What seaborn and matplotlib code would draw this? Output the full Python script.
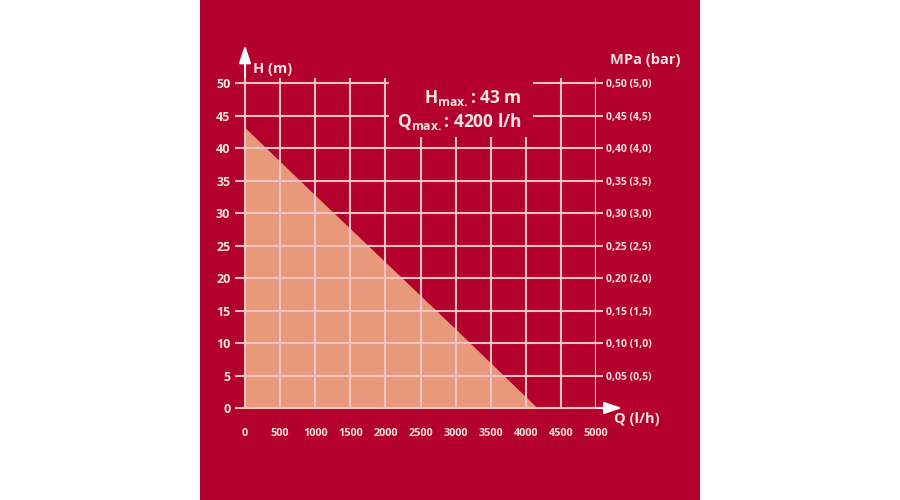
import matplotlib
matplotlib.use("Agg")
import matplotlib.pyplot as plt
import matplotlib.patches as mpatches
import seaborn as sns
import pandas as pd

# pump curve
flow_lh = [0, 1000, 2000, 3000, 4150]
head_m = [43, 32.6, 22.3, 12.0, 0]

x_ticks = [0, 500, 1000, 1500, 2000, 2500, 3000, 3500, 4000, 4500, 5000]
y_ticks = [0, 5, 10, 15, 20, 25, 30, 35, 40, 45, 50]
mpa_ticks = [0.05, 0.10, 0.15, 0.20, 0.25, 0.30, 0.35, 0.40, 0.45, 0.50]
mpa_labels = ["0,05 (0,5)", "0,10 (1,0)", "0,15 (1,5)", "0,20 (2,0)", "0,25 (2,5)",
              "0,30 (3,0)", "0,35 (3,5)", "0,40 (4,0)", "0,45 (4,5)", "0,50 (5,0)"]

RED = "#B4002C"
FILL = "#E9997B"
GRID = "#F3C3C3"
TXT = "#F8E2E2"

sns.set_theme(style="white")
plt.rcParams["font.family"] = ["Open Sans", "DejaVu Sans"]
plt.rcParams["mathtext.fontset"] = "custom"
plt.rcParams["mathtext.rm"] = "Open Sans"
plt.rcParams["mathtext.bf"] = "Open Sans:bold"

fig = plt.figure(figsize=(9, 5), dpi=100)
fig.patch.set_facecolor("white")
fig.patches.append(mpatches.Rectangle((200 / 900, 0), 500 / 900, 1, transform=fig.transFigure,
                                      facecolor=RED, edgecolor="none", zorder=-5))

ax = fig.add_axes([245 / 900, 1 - 408 / 500, 351 / 900, 330 / 500])
ax.set_facecolor(RED)
top = 50.8
ax.set_xlim(0, 5000)
ax.set_ylim(0, top)

df = pd.DataFrame({"Q": flow_lh, "H": head_m})
ax.fill_between(df["Q"], df["H"], 0, color=FILL, lw=0, zorder=1)
sns.lineplot(data=df, x="Q", y="H", ax=ax, color=FILL, lw=1, zorder=1)

# grid
for y in y_ticks[1:]:
    ax.plot([0, 5000], [y, y], color=GRID, lw=1.5, zorder=2, solid_capstyle="butt")
for x in x_ticks[1:]:
    ax.plot([x, x], [0, top], color=GRID, lw=1.5, zorder=2, solid_capstyle="butt")

for s in ["top", "right"]:
    ax.spines[s].set_visible(False)
for s in ["left", "bottom"]:
    ax.spines[s].set_color(GRID)
    ax.spines[s].set_linewidth(1.5)
    ax.spines[s].set_zorder(3)

ax.set_xticks(x_ticks)
ax.set_yticks(y_ticks)
ax.tick_params(axis="x", direction="out", length=10.5, width=1.5, color=GRID,
               labelcolor=TXT, labelsize=7.8, pad=4)
ax.tick_params(axis="y", direction="out", length=7.5, width=1.5, color=GRID,
               labelcolor=TXT, labelsize=9, pad=3)
for lab in ax.get_xticklabels() + ax.get_yticklabels():
    lab.set_fontweight("bold")
ax.set_xlabel("")
ax.set_ylabel("")

# axis arrows
ax.annotate("", xy=(0, 1.10), xytext=(0, 0.98), xycoords="axes fraction",
            arrowprops=dict(arrowstyle="-|>,head_length=0.9,head_width=0.3",
                            color="white", lw=1.5, shrinkA=0, shrinkB=0), annotation_clip=False)
ax.annotate("", xy=(1.075, 0), xytext=(0.99, 0), xycoords="axes fraction",
            arrowprops=dict(arrowstyle="-|>,head_length=0.9,head_width=0.3",
                            color="white", lw=1.5, shrinkA=0, shrinkB=0), annotation_clip=False)

# right pressure axis
ax2 = ax.twinx()
ax2.set_ylim(0, top / 100)
ax2.set_yticks(mpa_ticks)
ax2.set_yticklabels(mpa_labels)
for s in ["top", "left", "bottom", "right"]:
    ax2.spines[s].set_visible(False)
ax2.tick_params(axis="y", direction="inout", length=10, width=1.5, color=GRID,
                labelcolor=TXT, labelsize=7.5, pad=2)
for lab in ax2.get_yticklabels():
    lab.set_fontweight("bold")

fig.text(253 / 900, 1 - 69 / 500, "H (m)", color=TXT, fontsize=10.5, fontweight="bold",
         va="center", ha="left")
fig.text(610 / 900, 1 - 60 / 500, "MPa (bar)", color=TXT, fontsize=10.5, fontweight="bold",
         va="center", ha="left")
fig.text(614 / 900, 1 - 419 / 500, "Q (l/h)", color=TXT, fontsize=10.5, fontweight="bold",
         va="center", ha="left")

# red panel behind the max values hides the grid there
fig.patches.append(mpatches.Rectangle((389 / 900, 1 - 137 / 500), 144 / 900, 62 / 500,
                                      transform=fig.transFigure, facecolor=RED,
                                      edgecolor="none", zorder=4))
fig.text(522 / 900, 1 - 110 / 500,
         r"$\mathbf{H_{max.}}$: 43 m" + "\n" + r"$\mathbf{Q_{max.}}$: 4200 l/h",
         color=TXT, fontsize=12.5, fontweight="bold", va="center", ha="right",
         multialignment="right", linespacing=1.25, zorder=5)

fig.savefig("out.png", dpi=100)
